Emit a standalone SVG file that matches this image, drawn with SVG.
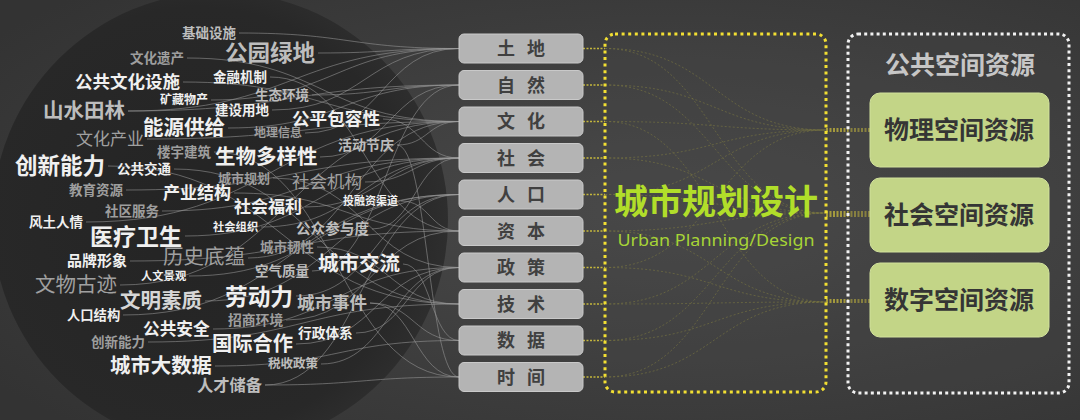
<svg xmlns="http://www.w3.org/2000/svg" width="1080" height="420" viewBox="0 0 1080 420">
<defs>
<radialGradient id="bg" cx="0.62" cy="0.5" r="0.75">
<stop offset="0" stop-color="#4a4a4a"/>
<stop offset="1" stop-color="#333333"/>
</radialGradient>
<radialGradient id="cl" cx="0.45" cy="0.5" r="0.55">
<stop offset="0" stop-color="#242424"/>
<stop offset="0.85" stop-color="#282828"/>
<stop offset="1" stop-color="#2e2e2e"/>
</radialGradient>
<style>
.w{font-family:"Noto Sans CJK SC","Noto Sans",sans-serif;font-weight:700;fill:#f0f0f0}
.g1{font-family:"Noto Sans CJK SC","Noto Sans",sans-serif;font-weight:700;fill:#bdbdbd}
.g2{font-family:"Noto Sans CJK SC","Noto Sans",sans-serif;font-weight:700;fill:#9e9e9e}
.g3{font-family:"Noto Sans CJK SC","Noto Sans",sans-serif;font-weight:400;fill:#a0a0a0}
.gl{font-family:"Noto Sans CJK SC","Noto Sans",sans-serif;font-weight:700;fill:#d6d6d6}
.cl path{fill:none;stroke:#9a9a9a;stroke-width:1;opacity:0.55}
.fb rect{fill:#b4b4b4;stroke:#c9c9c9;stroke-width:1}
.fb text{font-family:"Noto Sans CJK SC",sans-serif;font-weight:700;font-size:18px;fill:#404040;letter-spacing:12px;text-anchor:middle}
.ib path{fill:none;stroke:#948f3e;stroke-width:1;stroke-dasharray:2 2;opacity:0.6}
.sh line{stroke:#c4b63c;stroke-width:1.5;stroke-dasharray:2 1.5}
.rs rect{fill:#c3d587;stroke:#d2e29c;stroke-width:1}
.rs text{font-family:"Noto Sans CJK SC",sans-serif;font-weight:700;font-size:25px;fill:#353535;text-anchor:middle}
</style>
</defs>
<rect width="1080" height="420" fill="url(#bg)"/>
<circle cx="220" cy="220" r="228" fill="url(#cl)"/>

<g id="connectors">
<g class="cl">
<path d="M239,33 C349,33 349,48.5 459,48.5"/>
<path d="M187,58 C323,58 323,121.5 459,121.5"/>
<path d="M318,53 C388,53 388,48.5 459,48.5"/>
<path d="M183,82 C321,82 321,121.5 459,121.5"/>
<path d="M270,77 C364,77 364,231 459,231"/>
<path d="M211,100 C335,100 335,48.5 459,48.5"/>
<path d="M312,95 C385,95 385,85 459,85"/>
<path d="M128,111 C293,111 293,85 459,85"/>
<path d="M128,111 C293,111 293,48.5 459,48.5"/>
<path d="M272,110 C365,110 365,48.5 459,48.5"/>
<path d="M228,128 C343,128 343,85 459,85"/>
<path d="M383,119 C421,119 421,158 459,158"/>
<path d="M147,139 C303,139 303,121.5 459,121.5"/>
<path d="M305,133 C382,133 382,48.5 459,48.5"/>
<path d="M397,145 C428,145 428,121.5 459,121.5"/>
<path d="M397,145 C428,145 428,377 459,377"/>
<path d="M214,152 C336,152 336,377 459,377"/>
<path d="M108,166 C283,166 283,304 459,304"/>
<path d="M174,169 C316,169 316,304 459,304"/>
<path d="M320,157 C389,157 389,85 459,85"/>
<path d="M273,178 C366,178 366,267.5 459,267.5"/>
<path d="M365,182 C412,182 412,158 459,158"/>
<path d="M126,190 C292,190 292,158 459,158"/>
<path d="M234,193 C346,193 346,231 459,231"/>
<path d="M401,201 C430,201 430,231 459,231"/>
<path d="M305,207 C382,207 382,158 459,158"/>
<path d="M86,222 C272,222 272,121.5 459,121.5"/>
<path d="M162,211 C310,211 310,158 459,158"/>
<path d="M185,236 C322,236 322,158 459,158"/>
<path d="M261,227 C360,227 360,158 459,158"/>
<path d="M372,229 C415,229 415,158 459,158"/>
<path d="M130,261 C294,261 294,231 459,231"/>
<path d="M248,258 C353,258 353,121.5 459,121.5"/>
<path d="M317,247 C388,247 388,304 459,304"/>
<path d="M403,264 C431,264 431,340.5 459,340.5"/>
<path d="M189,276 C324,276 324,194.5 459,194.5"/>
<path d="M312,271 C385,271 385,85 459,85"/>
<path d="M120,285 C289,285 289,121.5 459,121.5"/>
<path d="M205,301 C332,301 332,194.5 459,194.5"/>
<path d="M296,296 C377,296 377,194.5 459,194.5"/>
<path d="M370,303 C414,303 414,340.5 459,340.5"/>
<path d="M370,303 C414,303 414,377 459,377"/>
<path d="M123,315 C291,315 291,194.5 459,194.5"/>
<path d="M286,320 C372,320 372,231 459,231"/>
<path d="M213,329 C336,329 336,267.5 459,267.5"/>
<path d="M356,333 C407,333 407,267.5 459,267.5"/>
<path d="M148,342 C303,342 303,304 459,304"/>
<path d="M296,344 C377,344 377,267.5 459,267.5"/>
<path d="M215,366 C337,366 337,340.5 459,340.5"/>
<path d="M321,364 C390,364 390,267.5 459,267.5"/>
<path d="M265,385 C362,385 362,194.5 459,194.5"/>
<path d="M265,385 C362,385 362,377 459,377"/>
</g>
<g class="sh">
<line x1="583" y1="48.5" x2="605" y2="48.5"/>
<line x1="583" y1="85" x2="605" y2="85"/>
<line x1="583" y1="121.5" x2="605" y2="121.5"/>
<line x1="583" y1="158" x2="605" y2="158"/>
<line x1="583" y1="194.5" x2="605" y2="194.5"/>
<line x1="583" y1="231" x2="605" y2="231"/>
<line x1="583" y1="267.5" x2="605" y2="267.5"/>
<line x1="583" y1="304" x2="605" y2="304"/>
<line x1="583" y1="340.5" x2="605" y2="340.5"/>
<line x1="583" y1="377" x2="605" y2="377"/>
<line x1="826" y1="129" x2="870" y2="129"/>
<line x1="826" y1="131" x2="870" y2="131"/>
<line x1="826" y1="212" x2="870" y2="212"/>
<line x1="826" y1="214" x2="870" y2="214"/>
<line x1="826" y1="216" x2="870" y2="216"/>
<line x1="826" y1="300" x2="870" y2="300"/>
<line x1="826" y1="302" x2="870" y2="302"/>
</g>
<g class="ib">
<path d="M605,48.5 C715,48.5 715,130 826,130"/>
<path d="M605,48.5 C715,48.5 715,213 826,213"/>
<path d="M605,85 C715,85 715,130 826,130"/>
<path d="M605,85 C715,85 715,213 826,213"/>
<path d="M605,121.5 C715,121.5 715,130 826,130"/>
<path d="M605,121.5 C715,121.5 715,302 826,302"/>
<path d="M605,158 C715,158 715,130 826,130"/>
<path d="M605,158 C715,158 715,213 826,213"/>
<path d="M605,194.5 C715,194.5 715,213 826,213"/>
<path d="M605,194.5 C715,194.5 715,130 826,130"/>
<path d="M605,231 C715,231 715,213 826,213"/>
<path d="M605,231 C715,231 715,302 826,302"/>
<path d="M605,267.5 C715,267.5 715,302 826,302"/>
<path d="M605,267.5 C715,267.5 715,130 826,130"/>
<path d="M605,304 C715,304 715,302 826,302"/>
<path d="M605,304 C715,304 715,213 826,213"/>
<path d="M605,340.5 C715,340.5 715,302 826,302"/>
<path d="M605,340.5 C715,340.5 715,213 826,213"/>
<path d="M605,377 C715,377 715,302 826,302"/>
<path d="M605,377 C715,377 715,213 826,213"/>
</g>
</g>

<g id="cloud">
<g id="w01"><text class="g1" x="182" y="38" font-size="13.5">基础设施</text></g>
<g id="w02"><text class="g2" x="130" y="63" font-size="13.5">文化遗产</text></g>
<g id="w03"><text class="g1" x="225" y="61" font-size="22.5">公园绿地</text></g>
<g id="w04"><text class="w" x="75" y="88" font-size="17.5">公共文化设施</text></g>
<g id="w05"><text class="w" x="213" y="82" font-size="13.5">金融机制</text></g>
<g id="w06"><text class="w" x="160" y="104" font-size="12">矿藏物产</text></g>
<g id="w07"><text class="g1" x="255" y="100" font-size="13.5">生态环境</text></g>
<g id="w08"><text class="g1" x="43" y="118" font-size="20.5">山水田林</text></g>
<g id="w09"><text class="w" x="215" y="115" font-size="13.5">建设用地</text></g>
<g id="w10"><text class="w" x="143" y="135" font-size="20.5">能源供给</text></g>
<g id="w11"><text class="w" x="292" y="125" font-size="17.6">公平包容性</text></g>
<g id="w12"><text class="g3" x="76" y="145" font-size="17">文化产业</text></g>
<g id="w13"><text class="g2" x="254" y="137" font-size="12">地理信息</text></g>
<g id="w14"><text class="g1" x="338" y="150" font-size="14">活动节庆</text></g>
<g id="w15"><text class="g2" x="157" y="157" font-size="13.5">楼宇建筑</text></g>
<g id="w16"><text class="w" x="15" y="174" font-size="22.5">创新能力</text></g>
<g id="w17"><text class="w" x="117" y="174" font-size="13.5">公共交通</text></g>
<g id="w18"><text class="w" x="215" y="164" font-size="20.5">生物多样性</text></g>
<g id="w19"><text class="g2" x="218" y="183" font-size="13">城市规划</text></g>
<g id="w20"><text class="g3" x="292" y="188" font-size="17.5">社会机构</text></g>
<g id="w21"><text class="g2" x="69" y="195" font-size="13.5">教育资源</text></g>
<g id="w22"><text class="w" x="163" y="199" font-size="17">产业结构</text></g>
<g id="w23"><text class="w" x="343" y="205" font-size="11">投融资渠道</text></g>
<g id="w24"><text class="w" x="234" y="213" font-size="17">社会福利</text></g>
<g id="w25"><text class="w" x="29" y="227" font-size="13.5">风土人情</text></g>
<g id="w26"><text class="g2" x="105" y="216" font-size="13.5">社区服务</text></g>
<g id="w27"><text class="w" x="90" y="245" font-size="23">医疗卫生</text></g>
<g id="w28"><text class="w" x="213" y="231" font-size="11.3">社会组织</text></g>
<g id="w29"><text class="g1" x="296" y="234" font-size="14.6">公众参与度</text></g>
<g id="w30"><text class="w" x="67" y="266" font-size="15">品牌形象</text></g>
<g id="w31"><text class="g3" x="163" y="264" font-size="20.5">历史底蕴</text></g>
<g id="w32"><text class="g2" x="260" y="252" font-size="13.5">城市韧性</text></g>
<g id="w33"><text class="w" x="318" y="271" font-size="20.5">城市交流</text></g>
<g id="w34"><text class="w" x="141" y="280" font-size="11.3">人文景观</text></g>
<g id="w35"><text class="g1" x="255" y="276" font-size="13.5">空气质量</text></g>
<g id="w36"><text class="g3" x="35" y="292" font-size="20.5">文物古迹</text></g>
<g id="w37"><text class="gl" x="120" y="308" font-size="20.5">文明素质</text></g>
<g id="w38"><text class="w" x="225" y="305" font-size="22.7">劳动力</text></g>
<g id="w39"><text class="g1" x="297" y="309" font-size="17.5">城市事件</text></g>
<g id="w40"><text class="w" x="67" y="320" font-size="13.3">人口结构</text></g>
<g id="w41"><text class="g2" x="228" y="325" font-size="13.8">招商环境</text></g>
<g id="w42"><text class="w" x="143" y="335" font-size="16.7">公共安全</text></g>
<g id="w43"><text class="w" x="298" y="338" font-size="13.7">行政体系</text></g>
<g id="w44"><text class="g2" x="91" y="347" font-size="13.5">创新能力</text></g>
<g id="w45"><text class="w" x="212" y="351" font-size="20.3">国际合作</text></g>
<g id="w46"><text class="w" x="110" y="373" font-size="20.4">城市大数据</text></g>
<g id="w47"><text class="g1" x="268" y="368" font-size="12.5">税收政策</text></g>
<g id="w48"><text class="g1" x="197" y="391" font-size="16.3">人才储备</text></g>
</g>

<g id="factors" class="fb">
<g id="f-land"><rect x="459" y="34" width="124" height="29" rx="5"/><text x="527" y="55">土地</text></g>
<g id="f-nature"><rect x="459" y="70.5" width="124" height="29" rx="5"/><text x="527" y="91.5">自然</text></g>
<g id="f-culture"><rect x="459" y="107" width="124" height="29" rx="5"/><text x="527" y="128">文化</text></g>
<g id="f-society"><rect x="459" y="143.5" width="124" height="29" rx="5"/><text x="527" y="164.5">社会</text></g>
<g id="f-population"><rect x="459" y="180" width="124" height="29" rx="5"/><text x="527" y="201">人口</text></g>
<g id="f-capital"><rect x="459" y="216.5" width="124" height="29" rx="5"/><text x="527" y="237.5">资本</text></g>
<g id="f-policy"><rect x="459" y="253" width="124" height="29" rx="5"/><text x="527" y="274">政策</text></g>
<g id="f-tech"><rect x="459" y="289.5" width="124" height="29" rx="5"/><text x="527" y="310.5">技术</text></g>
<g id="f-data"><rect x="459" y="326" width="124" height="29" rx="5"/><text x="527" y="347">数据</text></g>
<g id="f-time"><rect x="459" y="362.5" width="124" height="29" rx="5"/><text x="527" y="383.5">时间</text></g>
</g>

<g id="planning">
<rect x="605" y="34" width="221" height="358" rx="10" fill="#454545" fill-opacity="0.35" stroke="#f2df33" stroke-width="3" stroke-dasharray="3 3.6"/>
<text x="716" y="214" text-anchor="middle" font-family="Noto Sans CJK SC,sans-serif" font-weight="700" font-size="34" fill="#b1de2a">城市规划设计</text>
<text x="716" y="246" text-anchor="middle" font-family="Noto Sans,sans-serif" font-weight="400" font-size="17" fill="#a7d436" textLength="197" lengthAdjust="spacingAndGlyphs">Urban Planning/Design</text>
</g>

<g id="public-space">
<rect x="848" y="34" width="221" height="359" rx="10" fill="#454545" fill-opacity="0.3" stroke="#f2f2f2" stroke-width="3" stroke-dasharray="3 3.2"/>
<text x="960" y="74" text-anchor="middle" font-family="Noto Sans CJK SC,sans-serif" font-weight="700" font-size="25" fill="#c6c6c6">公共空间资源</text>
</g>
<g id="r-physical" class="rs"><rect x="870" y="93" width="179" height="74" rx="10"/><text x="959" y="139">物理空间资源</text></g>
<g id="r-social" class="rs"><rect x="870" y="178" width="179" height="74" rx="10"/><text x="959" y="224">社会空间资源</text></g>
<g id="r-digital" class="rs"><rect x="870" y="263" width="179" height="74" rx="10"/><text x="959" y="309">数字空间资源</text></g>
</svg>
